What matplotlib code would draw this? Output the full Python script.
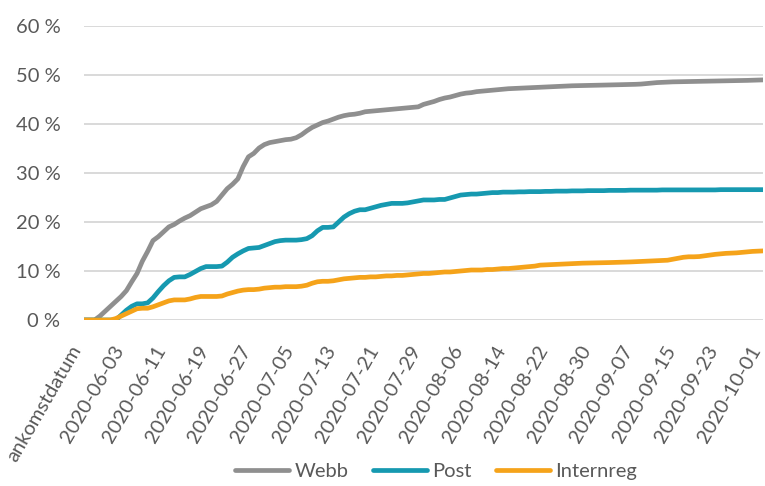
import matplotlib
matplotlib.use("Agg")
import matplotlib.pyplot as plt
import matplotlib.transforms as mtransforms
import pandas as pd
from matplotlib.ticker import FuncFormatter

# Categories: header label followed by daily dates
dates = [d.strftime("%Y-%m-%d") for d in pd.date_range("2020-05-27", "2020-10-01", freq="D")]
categories = ["ankomstdatum"] + dates

webb = [0, 0, 0, 0.8, 1.8, 2.8, 3.8, 4.8, 6.0, 7.8,
        9.5, 12.0, 14.0, 16.2, 17.0, 18.0, 19.0, 19.5, 20.2, 20.8,
        21.3, 22.0, 22.7, 23.1, 23.5, 24.2, 25.5, 26.8, 27.7, 28.8,
        31.3, 33.3, 34.0, 35.1, 35.8, 36.2, 36.4, 36.6, 36.8, 36.9,
        37.2, 37.8, 38.6, 39.3, 39.8, 40.3, 40.6, 41.0, 41.4, 41.7,
        41.9, 42.0, 42.2, 42.5, 42.6, 42.7, 42.8, 42.9, 43.0, 43.1,
        43.2, 43.3, 43.4, 43.5, 44.0, 44.3, 44.6, 45.0, 45.3, 45.5,
        45.8, 46.1, 46.3, 46.4, 46.6, 46.7, 46.8, 46.9, 47.0, 47.1,
        47.2, 47.25, 47.3, 47.35, 47.4, 47.45, 47.5, 47.55, 47.6, 47.65,
        47.7, 47.75, 47.8, 47.82, 47.85, 47.88, 47.9, 47.92, 47.95, 47.97,
        48.0, 48.02, 48.04, 48.06, 48.1, 48.15, 48.25, 48.35, 48.45, 48.5,
        48.55, 48.6, 48.62, 48.65, 48.68, 48.7, 48.72, 48.74, 48.76, 48.78,
        48.8, 48.82, 48.84, 48.86, 48.88, 48.9, 48.93, 48.96, 49.0]

post = [0, 0, 0, 0, 0, 0, 0, 1.0, 2.0, 2.8,
        3.3, 3.3, 3.5, 4.5, 5.8, 7.0, 8.0, 8.7, 8.8, 8.8,
        9.3, 9.9, 10.5, 10.9, 10.9, 10.9, 11.0, 11.8, 12.8, 13.5,
        14.1, 14.6, 14.7, 14.8, 15.2, 15.6, 16.0, 16.2, 16.3, 16.3,
        16.3, 16.4, 16.6, 17.2, 18.2, 18.9, 18.9, 19.0, 20.0, 21.0,
        21.7, 22.2, 22.5, 22.5, 22.8, 23.1, 23.4, 23.6, 23.8, 23.8,
        23.8, 23.9, 24.1, 24.3, 24.5, 24.5, 24.5, 24.6, 24.6, 24.9,
        25.2, 25.5, 25.6, 25.7, 25.7, 25.8, 25.9, 26.0, 26.0, 26.1,
        26.1, 26.1, 26.15, 26.15, 26.2, 26.2, 26.2, 26.25, 26.25, 26.3,
        26.3, 26.3, 26.35, 26.35, 26.35, 26.4, 26.4, 26.4, 26.4, 26.45,
        26.45, 26.45, 26.45, 26.5, 26.5, 26.5, 26.5, 26.5, 26.5, 26.55,
        26.55, 26.55, 26.55, 26.55, 26.55, 26.55, 26.55, 26.55, 26.55, 26.55,
        26.6, 26.6, 26.6, 26.6, 26.6, 26.6, 26.6, 26.6, 26.6]

internreg = [0, 0, 0, 0, 0, 0, 0.3, 0.8, 1.3, 1.8,
             2.3, 2.4, 2.4, 2.7, 3.1, 3.5, 3.9, 4.1, 4.1, 4.1,
             4.3, 4.6, 4.8, 4.8, 4.8, 4.8, 4.9, 5.3, 5.6, 5.9,
             6.1, 6.2, 6.2, 6.3, 6.5, 6.6, 6.7, 6.7, 6.8, 6.8,
             6.8, 6.9, 7.1, 7.5, 7.8, 7.9, 7.9, 8.0, 8.2, 8.4,
             8.5, 8.6, 8.7, 8.7, 8.8, 8.8, 8.9, 9.0, 9.0, 9.1,
             9.1, 9.2, 9.3, 9.4, 9.5, 9.5, 9.6, 9.7, 9.8, 9.8,
             9.9, 10.0, 10.1, 10.2, 10.2, 10.2, 10.3, 10.3, 10.4, 10.5,
             10.5, 10.6, 10.7, 10.8, 10.9, 11.0, 11.2, 11.25, 11.3, 11.35,
             11.4, 11.45, 11.5, 11.55, 11.6, 11.62, 11.65, 11.68, 11.7, 11.72,
             11.75, 11.78, 11.8, 11.85, 11.9, 11.95, 12.0, 12.05, 12.1, 12.15,
             12.2, 12.4, 12.6, 12.8, 12.9, 12.9, 12.95, 13.1, 13.25, 13.4,
             13.5, 13.6, 13.65, 13.7, 13.8, 13.9, 14.0, 14.05, 14.1]

series_names = ["Webb", "Post", "Internreg"]
colors = ["#8f8f8f", "#1699b0", "#f5a31a"]
y_ticks = [0, 10, 20, 30, 40, 50, 60]

plt.rcParams['font.family'] = ['Lato', 'DejaVu Sans']

fig = plt.figure(figsize=(7.65, 4.86), dpi=100)
ax = fig.add_axes([84 / 765, 1 - 320 / 486, (763 - 84) / 765, (320 - 26) / 486])

x = list(range(len(categories)))
for vals, name, c in zip([webb, post, internreg], series_names, colors):
    ax.plot(x, vals, color=c, lw=3.4, label=name, solid_capstyle='round', solid_joinstyle='round')

ax.set_xlim(0, len(categories) - 1)
ax.set_ylim(0, 60)
ax.set_yticks(y_ticks)
ax.yaxis.set_major_formatter(FuncFormatter(lambda v, p: f"{int(v)} %"))
ax.grid(axis='y', color='#d9d9d9', lw=1.4)
ax.set_axisbelow(True)
for s in ax.spines.values():
    s.set_visible(False)

tick_pos = x[::8]
ax.set_xticks(tick_pos)
ax.set_xticklabels([categories[i] for i in tick_pos], rotation=60, ha='right', va='baseline',
                   rotation_mode='anchor')
ax.tick_params(axis='x', length=0, pad=21.5, labelsize=14.5, labelcolor='#595959')
ax.tick_params(axis='y', length=0, pad=17, labelsize=14.5, labelcolor='#595959')
offset = mtransforms.ScaledTranslation(-2 / 100, 0, fig.dpi_scale_trans)
for lbl in ax.get_xticklabels():
    lbl.set_transform(lbl.get_transform() + offset)

leg = fig.legend(loc='center', bbox_to_anchor=(436 / 765, 1 - 471 / 486), ncol=3, frameon=False,
                 fontsize=14.5, handlelength=2.7, handletextpad=0.25, columnspacing=1.2,
                 labelcolor='#595959')

fig.savefig("out.png", dpi=100)
